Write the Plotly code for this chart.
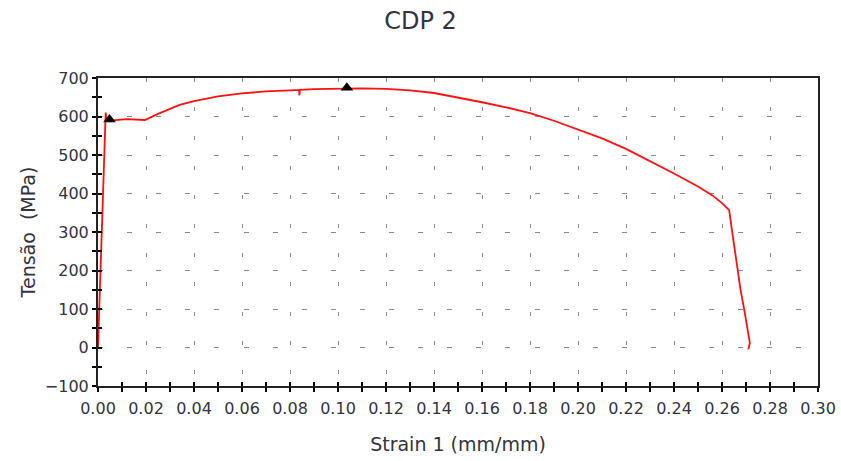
import plotly.graph_objects as go

# Stress-strain curve
strain = [0.0, 0.0005, 0.0010, 0.0017, 0.0020, 0.0026, 0.0030, 0.0032, 0.0036, 0.0060,
          0.0120, 0.0195, 0.025, 0.030, 0.034, 0.040, 0.050, 0.060, 0.070, 0.080,
          0.0838, 0.0839, 0.0841, 0.090, 0.100, 0.110, 0.120, 0.130, 0.140, 0.150,
          0.160, 0.170, 0.180, 0.190, 0.200, 0.210, 0.220, 0.230, 0.240, 0.250,
          0.256, 0.260, 0.2630, 0.2643, 0.2663, 0.2677, 0.2695, 0.2709, 0.2716, 0.2710]
stress = [0, 100, 220, 360, 400, 500, 590, 610, 592, 590,
          593, 591, 607, 619, 630, 640, 652, 660, 665, 668,
          669, 655, 669, 671, 672, 673, 672, 668, 661, 650,
          637, 624, 609, 589, 567, 543, 516, 485, 452, 418,
          395, 375, 357, 298, 203, 151, 90, 42, 12, -5]

# Marked points (yield and maximum)
mark_strain = [0.0048, 0.1037]
mark_stress = [592, 675]

x_ticks = [round(0.02 * i, 2) for i in range(16)]
x_ticklabels = [f"{v:.2f}" for v in x_ticks]
y_ticks = list(range(-100, 701, 100))

font_family = "DejaVu Sans, Verdana, sans-serif"
txt_color = "#333340"

fig = go.Figure()
fig.add_trace(go.Scatter(x=strain, y=stress, mode="lines",
                         line=dict(color="#ff1010", width=1.8),
                         showlegend=False, hoverinfo="skip"))
fig.add_trace(go.Scatter(x=mark_strain, y=mark_stress, mode="markers",
                         marker=dict(symbol="triangle-up", size=11, color="black"),
                         showlegend=False, hoverinfo="skip"))
# invisible trace to create overlaying axes for inward ticks
fig.add_trace(go.Scatter(x=mark_strain, y=mark_stress, xaxis="x2", yaxis="y2",
                         mode="markers", marker=dict(opacity=0),
                         showlegend=False, hoverinfo="skip"))

fig.update_layout(
    width=841, height=461,
    margin=dict(l=98, r=23, t=78, b=75),
    paper_bgcolor="white", plot_bgcolor="white",
    font=dict(family=font_family, color=txt_color),
    title=dict(text="CDP 2", x=0.5, xref="container", xanchor="center",
               y=0.955, yref="container", yanchor="middle",
               font=dict(size=24, color=txt_color)),
    xaxis=dict(range=[0, 0.30], tickvals=x_ticks, ticktext=x_ticklabels,
               automargin=False, ticklabelstandoff=3,
               ticks="outside", ticklen=4, tickwidth=1.5, tickcolor="black",
               minor=dict(dtick=0.01, tick0=0, ticks="outside", ticklen=4,
                          tickwidth=1.5, tickcolor="black", showgrid=False),
               showline=True, linecolor="#222", linewidth=2, mirror=True,
               showgrid=True, gridcolor="#8a8a8a", gridwidth=1,
               griddash="4px,25.2px", zeroline=False,
               tickfont=dict(size=16, color=txt_color),
               title=dict(text="Strain 1 (mm/mm)", font=dict(size=19, color=txt_color),
                          standoff=20)),
    yaxis=dict(range=[-100, 700], tickvals=y_ticks,
               automargin=False,
               ticks="outside", ticklen=4, tickwidth=1.5, tickcolor="black",
               minor=dict(dtick=50, tick0=0, ticks="outside", ticklen=4,
                          tickwidth=1.5, tickcolor="black", showgrid=False),
               showline=True, linecolor="#222", linewidth=2, mirror=True,
               showgrid=True, gridcolor="#8a8a8a", gridwidth=1,
               griddash="5px,24.1px", zeroline=False,
               tickfont=dict(size=16, color=txt_color),
               title=dict(text="Tensão\u00a0\u00a0(MPa)", font=dict(size=19, color=txt_color),
                          standoff=4)),
    xaxis2=dict(overlaying="x", anchor="y2", side="bottom", range=[0, 0.30],
                tick0=0, dtick=0.01, ticks="inside", ticklen=4, tickwidth=1.5,
                tickcolor="black", showticklabels=False, showgrid=False,
                showline=False, zeroline=False),
    yaxis2=dict(overlaying="y", anchor="x2", side="left", range=[-100, 700],
                tick0=0, dtick=50, ticks="inside", ticklen=4, tickwidth=1.5,
                tickcolor="black", showticklabels=False, showgrid=False,
                showline=False, zeroline=False),
)

fig.write_html("out.html")
